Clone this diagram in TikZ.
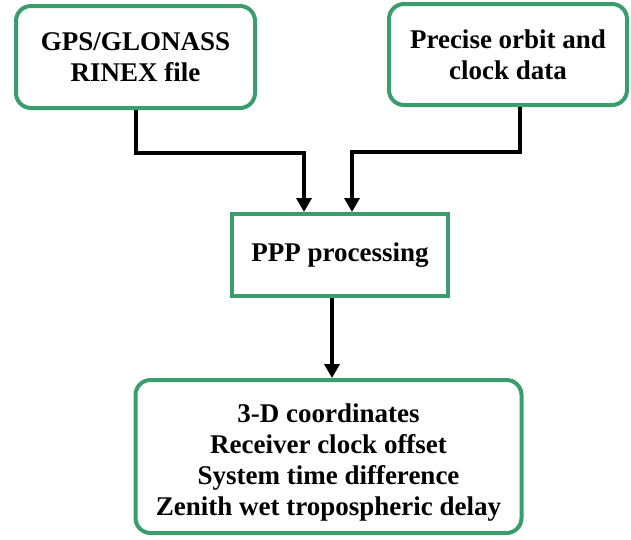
\documentclass[tikz,border=0pt]{standalone}
\usepackage{fontspec}
\setmainfont{Liberation Serif}
\usetikzlibrary{positioning,arrows.meta}
\definecolor{boxgreen}{RGB}{58,158,108}

\begin{document}
\begin{tikzpicture}[x=1pt ,y=-1pt ,
-{Triangle[width=15pt,length=14pt]} ,line width =4pt ,
block/.style ={ rectangle ,draw=boxgreen ,line width=4pt ,fill=white ,
align=center ,inner sep=0pt ,font=\fontsize{27}{31}\selectfont\bfseries},
rblock/.style ={ block ,rounded corners=15pt}]
\useasboundingbox (0,0) rectangle (631,539);
\node[rblock, minimum width=239pt, minimum height=102pt] (gps) at (135.5,57) {GPS/GLONASS\\RINEX file};
\node[rblock, minimum width=238pt, minimum height=101pt] (orb) at (508,54.5) {Precise orbit and\\clock data};
\node[block, minimum width=216pt, minimum height=82pt] (ppp) at (340,255) {PPP processing};
\node[rblock, minimum width=386pt, minimum height=153pt] (res) at (328.5,456.5)
  {\rule{0pt}{30pt}3-D coordinates\\Receiver clock offset\\System time difference\\Zenith wet tropospheric delay};
\draw (gps.south) -- ++(0,43) -| ([xshift=-36pt]ppp.north);
\draw ([xshift=12pt]orb.south) -- ++(0,45) -| ([xshift=12pt]ppp.north);
\draw ([xshift=-8pt]ppp.south) -- ([xshift=-8pt]ppp.south |- res.north);
\end{tikzpicture}
\end{document}
